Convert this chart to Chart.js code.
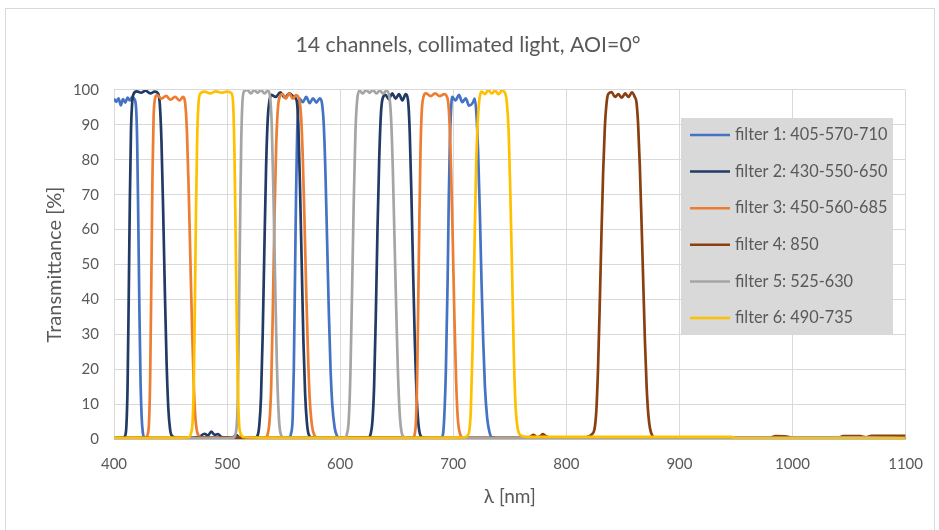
<!DOCTYPE html>
<html>
<head>
<meta charset="utf-8">
<script src="https://cdn.jsdelivr.net/npm/chart.js@4.4.1/dist/chart.umd.min.js"></script>
<style>
  html, body { margin: 0; padding: 0; background: #ffffff; }
  #wrap { position: relative; width: 939px; height: 530px; overflow: hidden; }
  #frame { position: absolute; left: 5px; top: 8px; width: 930px; height: 540px; border: 1px solid #d9d9d9; box-sizing: border-box; pointer-events: none; }
  canvas { position: absolute; left: 0; top: 0; }
</style>
</head>
<body>
<div id="wrap">
  <canvas id="c" width="939" height="530"></canvas>
  <div id="frame"></div>
</div>
<script>
// ---- data (wavelength nm, transmittance %) ----
const titleText = "14 channels, collimated light, AOI=0°";
const xTitle = "λ [nm]";
const yTitle = "Transmittance [%]";
const seriesLabels = [
  "filter 1: 405-570-710",
  "filter 2: 430-550-650",
  "filter 3: 450-560-685",
  "filter 4: 850",
  "filter 5: 525-630",
  "filter 6: 490-735"
];
const seriesColors = ["#4472C4", "#223A66", "#ED7D31", "#8A3F10", "#A5A5A5", "#FFC000"];

const filter1 = [
  [400,97.5],[402,96.6],[404,97.6],[406,95.6],[408,97.4],[410,96.4],[412,97.8],[414,97.0],[416,98.0],[418,97.4],
  [419.5,95],[420.5,85],[421.5,62],[422.5,36],[423.5,16],[424.5,6],[425.5,1.8],[427,0.5],[435,0.2],[500,0.2],
  [550,0.3],[555,0.4],[556.5,1.5],[558,6],[559,20],[560,45],[561,70],[562,88],[563,95],[564,97.5],
  [567,96.5],[570,98],[573,96.2],[576,97.6],[579,96.4],[582,97.6],[584,96],[585.5,90],[587,76],[588.5,56],
  [590,36],[591.5,20],[593,10],[595,3.5],[597,1],[600,0.3],[650,0.2],[688,0.3],[690,0.6],[691,1.5],
  [692,6],[693.5,20],[695,45],[696,68],[697,85],[698,94],[699,98],[702,97],[705,98.6],[708,96.5],
  [711,97.6],[714,95.5],[717,96.2],[719,97.5],[720.5,93],[722,82],[723.5,65],[725,45],[726.5,28],[728,15],
  [730,6],[732,2],[734,0.5],[740,0.2],[900,0.2],[1100,0.2]
];
const filter2 = [
  [400,0.2],[408,0.3],[410,1],[411,4],[412,15],[413,40],[414,68],[415,88],[416,96],[417,98.6],
  [420,99.6],[424,99.2],[428,99.8],[432,99],[436,99.5],[439,99],[440.5,96],[442,85],[443.5,65],[445,42],
  [446.5,22],[448,9],[449.5,3],[451,1],[455,0.4],[465,0.3],[475,0.5],[480,1.5],[483,1],[486,2.1],
  [489,1.2],[492,1.4],[495,0.6],[500,0.4],[505,0.5],[508,1.1],[511,0.5],[520,0.3],[525,0.4],[527,1],
  [528.5,4],[530,12],[531.5,30],[533,55],[534.5,78],[536,92],[537.5,97],[539,98.6],[543,98],[547,99.3],
  [551,97.8],[555,99],[559,98],[561.5,97],[563,90],[564.5,72],[566,50],[567.5,28],[569,13],[570.5,5],
  [572,1.5],[575,0.4],[600,0.2],[620,0.3],[625,0.4],[627,1.5],[628.5,5],[630,15],[631.5,35],[633,60],
  [634.5,80],[636,93],[637.5,97.5],[640,98.6],[643,97.4],[646,99],[649,97.5],[652,98.8],[655,97],[658,98.8],
  [660,97],[661.5,88],[663,70],[664.5,48],[666,28],[667.5,13],[669,5],[670.5,1.5],[673,0.4],[680,0.2],
  [900,0.2],[1100,0.2]
];
const filter3 = [
  [400,0.2],[425,0.3],[428,0.5],[430,1.5],[431,5],[432,18],[433,45],[434,75],[435,92],[436,97],
  [438,98.5],[442,97.5],[446,98.3],[450,97.2],[454,98],[458,97],[461,98],[463,96],[464.5,88],[466,72],
  [467.5,52],[469,32],[470.5,16],[472,6],[474,1.5],[477,0.5],[485,0.4],[500,0.3],[530,0.3],[534,0.4],
  [536,1.5],[537.5,5],[539,15],[540.5,38],[542,65],[543.5,85],[545,95],[546.5,98],[549,98.8],[552,97.5],
  [555,99],[558,97.5],[561,98.5],[564,97],[565.5,92],[567,80],[568.5,62],[570,42],[571.5,25],[573,12],
  [575,4],[577,1.2],[580,0.4],[600,0.3],[660,0.3],[664,0.4],[666,1.5],[667,5],[668,16],[669,38],
  [670,62],[671,82],[672,93],[673,97],[676,99],[680,98.2],[684,99],[688,98.2],[692,98.8],[695,97.5],
  [696.5,92],[698,78],[699.5,58],[701,35],[702.5,17],[704,6],[706,1.5],[709,0.4],[720,0.3],[900,0.2],
  [1100,0.2]
];
const filter4 = [
  [400,0.3],[600,0.3],[760,0.3],[768,0.6],[771,1.2],[774,0.5],[777,0.8],[779,1.4],[782,0.8],[786,0.3],
  [800,0.2],[815,0.3],[820,0.8],[823,1.5],[825,3],[826.5,8],[828,20],[829.5,38],[831,58],[832.5,76],
  [834,89],[835.5,96],[837,98.8],[840,99.4],[843,98],[846,98.8],[849,97.8],[852,99],[855,98],[858,99.3],
  [860.5,98],[862,96.5],[863.5,90],[865,78],[866.5,62],[868,45],[869.5,28],[871,15],[872.5,7],[874,3],
  [876,1],[879,0.3],[950,0.3],[980,0.3],[985,0.8],[995,0.7],[1000,0.3],[1040,0.4],[1045,0.8],[1060,0.8],
  [1065,0.5],[1070,0.9],[1100,0.9]
];
const filter5 = [
  [400,0.2],[500,0.2],[505,0.3],[507,1],[508.5,4],[509.5,12],[510.5,35],[511.5,62],[512.5,85],[513.5,96],
  [515,99.6],[518,100],[521,99],[524,100],[527,99.2],[530,100],[533,99],[536,99.8],[538,98],[539.5,90],
  [541,70],[542.5,45],[544,22],[545.5,8],[547,2],[550,0.4],[560,0.3],[600,0.3],[604,0.4],[606,1.5],
  [607.5,5],[609,18],[610.5,42],[612,68],[613.5,88],[615,97],[617,99.8],[620,99],[623,100],[626,99.2],
  [629,100],[632,99],[635,99.8],[638,99],[641,99.8],[643.5,98],[645,92],[646.5,78],[648,58],[649.5,38],
  [651,20],[652.5,8],[654,2.5],[656,0.6],[660,0.3],[900,0.2],[985,0.4],[1000,0.4],[1045,0.5],[1065,0.5],
  [1100,0.3]
];
const filter6 = [
  [400,0.3],[460,0.4],[466,0.5],[468,1.5],[469.5,5],[470.5,15],[471.5,38],[472.5,65],[473.5,85],[474.5,95],
  [476,98.8],[480,99.5],[485,99],[490,99.6],[495,99.2],[500,99.5],[504,99],[505.5,95],[506.5,82],[507.5,60],
  [508.5,35],[509.5,15],[510.5,5],[512,1.5],[515,0.5],[530,0.4],[600,0.3],[700,0.4],[710,0.5],[712,0.8],
  [714,2],[715.5,8],[717,25],[718.5,50],[720,75],[721.5,90],[723,97],[725,99.5],[728,98.8],[731,100],
  [734,99],[737,99.8],[740,98.8],[743,99.8],[746,99],[747.5,96],[749,88],[750.5,70],[752,48],[753.5,25],
  [755,10],[757,3],[760,1],[765,0.6],[800,0.6],[900,0.6],[946,0.6],[950,0.2],[1100,0.2]
];
const seriesData = [filter1, filter2, filter3, filter4, filter5, filter6];
const xMin = 400, xMax = 1100, xStep = 100;
const yMin = 0, yMax = 100, yStep = 10;

// ---- chart ----
const FONT = "Lato, 'Liberation Sans', sans-serif";
const TXT = "#595959";

const legendPlugin = {
  id: 'boxLegend',
  afterDraw(chart) {
    const ctx = chart.ctx;
    const bx = 681, by = 118, bw = 212, bh = 217;
    ctx.save();
    ctx.fillStyle = "#d9d9d9";
    ctx.fillRect(bx, by, bw, bh);
    ctx.font = "16.3px " + FONT;
    ctx.textBaseline = "middle";
    ctx.textAlign = "left";
    chart.data.datasets.forEach((ds, i) => {
      const y = 135 + i * 36.6;
      ctx.strokeStyle = ds.borderColor;
      ctx.lineWidth = 2.5;
      ctx.beginPath();
      ctx.moveTo(690, y);
      ctx.lineTo(730, y);
      ctx.stroke();
      ctx.fillStyle = TXT;
      ctx.fillText(ds.label, 735, y);
    });
    ctx.restore();
  }
};

const datasets = seriesData.map((d, i) => ({
  label: seriesLabels[i],
  data: d.map(p => ({x: p[0], y: p[1]})),
  borderColor: seriesColors[i],
  backgroundColor: seriesColors[i],
  borderWidth: 2.7,
  pointRadius: 0,
  showLine: true,
  fill: false,
  cubicInterpolationMode: 'monotone',
  order: seriesData.length - i
}));

new Chart(document.getElementById('c'), {
  type: 'scatter',
  data: { datasets },
  options: {
    responsive: false,
    animation: false,
    devicePixelRatio: 1,
    layout: { padding: { top: 0, left: 29, right: 32, bottom: 0 } },
    plugins: {
      legend: { display: false },
      tooltip: { enabled: false },
      title: {
        display: true,
        text: titleText,
        color: TXT,
        font: { family: FONT, size: 21.3, weight: 'normal' },
        padding: { top: 32.2, bottom: 32.2 }
      }
    },
    scales: {
      x: {
        type: 'linear', min: xMin, max: xMax,
        ticks: { stepSize: xStep, color: TXT, font: { family: FONT, size: 15 }, padding: 16, maxRotation: 0,
                 callback: v => String(v) },
        grid: { color: "#d9d9d9", lineWidth: 1, drawTicks: false },
        border: { display: true, color: "#bfbfbf" },
        title: { display: true, text: xTitle, color: TXT, font: { family: FONT, size: 19 }, padding: { top: 0, bottom: 21.6 } },
        afterFit(s) { s.height = 91; }
      },
      y: {
        type: 'linear', min: yMin, max: yMax,
        ticks: { stepSize: yStep, color: TXT, font: { family: FONT, size: 15 }, padding: 15,
                 callback: v => String(v) },
        grid: { color: "#d9d9d9", lineWidth: 1, drawTicks: false },
        border: { display: false },
        title: { display: true, text: yTitle, color: TXT, font: { family: FONT, size: 20 }, padding: { top: 14, bottom: 0 } },
        afterFit(s) { s.width = 85; }
      }
    }
  },
  plugins: [legendPlugin]
});
</script>
</body>
</html>
